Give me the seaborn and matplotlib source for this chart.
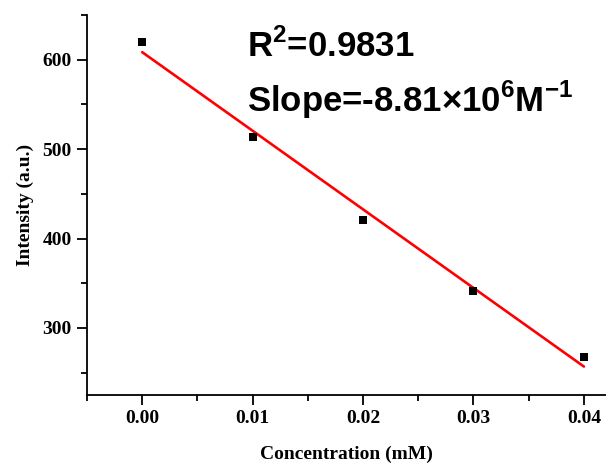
import numpy as np
import pandas as pd
import seaborn as sns
import matplotlib.pyplot as plt
from matplotlib.ticker import MultipleLocator

# data
concentration = [0.00, 0.01, 0.02, 0.03, 0.04]
intensity = [620, 514, 421, 341, 267]
r_squared = "0.9831"
slope_text = "8.81"

df = pd.DataFrame({"Concentration (mM)": concentration, "Intensity (a.u.)": intensity})

sns.set_theme(style="ticks")
plt.rcParams['font.family'] = ['Liberation Serif', 'DejaVu Serif']
plt.rcParams['text.color'] = 'black'
plt.rcParams['axes.labelcolor'] = 'black'
plt.rcParams['mathtext.fontset'] = 'custom'
plt.rcParams['mathtext.rm'] = 'Liberation Sans'
plt.rcParams['mathtext.bf'] = 'Liberation Sans:bold'

fig = plt.figure(figsize=(6.06, 4.66), dpi=100)
ax = fig.add_axes([0.1436, 0.1524, 0.8564, 0.8154])

sns.regplot(data=df, x="Concentration (mM)", y="Intensity (a.u.)", ax=ax, ci=None,
            scatter=False, truncate=True, line_kws=dict(color="#ff0000", lw=1.9))
sns.scatterplot(data=df, x="Concentration (mM)", y="Intensity (a.u.)", ax=ax,
                marker="s", s=40, color="black", edgecolor="black", linewidth=0, zorder=3)

ax.set_xlim(-0.005, 0.042)
ax.set_ylim(225, 650)
ax.xaxis.set_minor_locator(MultipleLocator(0.005))
ax.yaxis.set_minor_locator(MultipleLocator(50))
ax.set_xticks([0.0, 0.01, 0.02, 0.03, 0.04])
ax.set_xticklabels(["0.00", "0.01", "0.02", "0.03", "0.04"])
ax.set_yticks([300, 400, 500, 600])

for sp in ["top", "right"]:
    ax.spines[sp].set_visible(False)
for sp in ["left", "bottom"]:
    ax.spines[sp].set_linewidth(1.3)
    ax.spines[sp].set_color("black")

ax.tick_params(which="major", direction="out", length=7, width=1.3, colors="black",
               labelsize=14, pad=4)
ax.tick_params(which="minor", direction="out", length=4, width=1.3, colors="black")
for lab in ax.get_xticklabels() + ax.get_yticklabels():
    lab.set_fontweight("bold")

ax.set_xlabel("Concentration (mM)", fontsize=14, fontweight="bold", labelpad=13)
ax.set_ylabel("Intensity (a.u.)", fontsize=14, fontweight="bold", labelpad=6)

ax.text(247 / 606, 1 - 57 / 466, r"R$^{\mathbf{2}}$=" + r_squared, transform=fig.transFigure,
        fontsize=25, fontweight="bold", family="Liberation Sans", va="baseline", ha="left")
ax.text(247 / 606, 1 - 112 / 466,
        "Slope=-" + slope_text + r"×10$^{\mathbf{6}}$M$^{\mathbf{-1}}$",
        transform=fig.transFigure, fontsize=25, fontweight="bold", family="Liberation Sans",
        va="baseline", ha="left")

fig.savefig("out.png", dpi=100)
